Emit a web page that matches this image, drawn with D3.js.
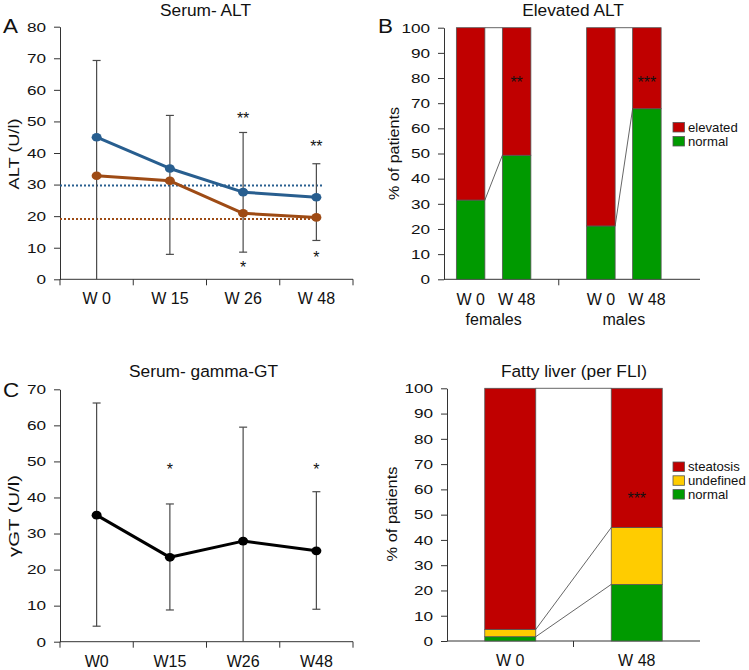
<!DOCTYPE html>
<html><head><meta charset="utf-8">
<script src="https://cdn.jsdelivr.net/npm/d3@7"></script>
<style>
body{margin:0;background:#fff}
svg text{font-family:"Liberation Sans",Arial,Helvetica,sans-serif;fill:#111}
</style></head><body>
<svg id="c" width="749" height="670"></svg>
<script>
// ---------- DATA ----------
// Panel A: Serum ALT
const altWeeks = ["W 0", "W 15", "W 26", "W 48"];
const altMale = [45.0, 35.1, 27.6, 26.0];
const altFemale = [32.8, 31.2, 20.9, 19.6];
const altErrHigh = [69.3, 51.9, 46.5, 36.6];
const altErrLow = [0, 7.9, 8.6, 12.3];
const altRefMale = 29.7;
const altRefFemale = 19.1;
const altStarsTop = ["", "", "**", "**"];
const altStarsTopY = [null, null, 51.8, 42.9];
const altStarsBottom = ["", "", "*", "*"];
const altStarsBottomY = [null, null, 4.7, 8.0];
const altTicks = [0, 10, 20, 30, 40, 50, 60, 70, 80];

// Panel B: Elevated ALT
const elevGroups = ["females", "males"];
const elevWeeks = ["W 0", "W 48"];
const elevNormalFemales = [31.5, 49.3];
const elevNormalMales = [21.2, 67.8];
const elevStarsFemales = ["", "**"];
const elevStarsMales = ["", "***"];
const elevStarsY = 79.6;
const elevLegend = ["elevated", "normal"];
const pctTicks = [0, 10, 20, 30, 40, 50, 60, 70, 80, 90, 100];

// Panel C: Serum gamma-GT
const ggtWeeks = ["W0", "W15", "W26", "W48"];
const ggtMean = [35.1, 23.4, 27.9, 25.2];
const ggtErrHigh = [66.2, 38.2, 59.5, 41.6];
const ggtErrLow = [4.3, 8.8, 0, 9.0];
const ggtStars = ["", "*", "", "*"];
const ggtStarsY = 48.7;
const ggtTicks = [0, 10, 20, 30, 40, 50, 60, 70];

// Panel D: Fatty liver (per FLI)
const fliWeeks = ["W 0", "W 48"];
const fliNormal = [1.7, 22.4];
const fliUndefined = [2.9, 22.5];
const fliSteatosis = [95.4, 55.1];
const fliStars = ["", "***"];
const fliStarsY = 57.7;
const fliLegend = ["steatosis", "undefined", "normal"];

// ---------- STYLE ----------
const RED = "#c00000", GREEN = "#009a00", YELLOW = "#ffcc00";
const BLUE = "#285e8f", BROWN = "#9e4b15";
const AXIS = "#333", OUTLINE = "#555";
const TICK_FS = 13.5, TICK_S = 1.27;
const XL_FS = 16, TITLE_FS = 16.5, TITLE_S = 1.05, LEG_FS = 12.3, LEG_S = 1.07;
const STAR_FS = 16, LET_FS = 19.5, LET_S = 1.15;
const svg = d3.select("#c");

function yAxis(g, y, ticks, x0) {
  const a = g.append("g").attr("transform", `translate(${x0},0)`)
    .call(d3.axisLeft(y).tickValues(ticks).tickSize(6).tickPadding(8).tickSizeOuter(0));
  a.select(".domain").attr("stroke", AXIS);
  a.selectAll(".tick line").attr("stroke", AXIS);
  a.selectAll(".tick text").attr("class", "st").attr("data-s", TICK_S)
    .attr("font-size", TICK_FS).attr("fill", "#111");
}
function xBase(g, y0, xStart, xEnd, tickXs) {
  g.append("line").attr("x1", xStart).attr("x2", xEnd).attr("y1", y0).attr("y2", y0).attr("stroke", AXIS);
  g.selectAll(null).data(tickXs).join("line")
    .attr("x1", d => d).attr("x2", d => d).attr("y1", y0).attr("y2", y0 + 6).attr("stroke", AXIS);
}
function txt(g, s, x, y, size, anchor, stretch) {
  return g.append("text").attr("x", x).attr("y", y).attr("font-size", size)
    .attr("text-anchor", anchor || "middle").attr("class", "st").attr("data-s", stretch || 1).text(s);
}
function yLabel(g, s, x, y, size, len) {
  const t = g.append("text").attr("text-anchor", "middle").attr("font-size", size).text(s);
  const w = t.node().getComputedTextLength();
  t.attr("transform", `translate(${x},${y}) rotate(-90) scale(${len / w},1.1)`);
}
function errBars(g, x, y, lows, highs, cats, color) {
  const cw = 4;
  cats.forEach((c, i) => {
    const cx = x(c) + x.bandwidth() / 2;
    g.append("line").attr("x1", cx).attr("x2", cx).attr("y1", y(lows[i])).attr("y2", y(highs[i]))
      .attr("stroke", color).attr("stroke-width", 1.2);
    [lows[i], highs[i]].forEach(v => {
      if (v > 0) g.append("line").attr("x1", cx - cw).attr("x2", cx + cw).attr("y1", y(v)).attr("y2", y(v))
        .attr("stroke", color).attr("stroke-width", 1.2);
    });
  });
}
function seriesLine(g, x, y, cats, vals, color, rx, ry) {
  const pts = cats.map((c, i) => [x(c) + x.bandwidth() / 2, y(vals[i])]);
  g.append("path").attr("d", d3.line()(pts)).attr("fill", "none").attr("stroke", color)
    .attr("stroke-width", 3).attr("stroke-linejoin", "round");
  g.selectAll(null).data(pts).join("ellipse").attr("cx", d => d[0]).attr("cy", d => d[1])
    .attr("rx", rx).attr("ry", ry).attr("fill", color);
}
function stars(g, x, cats, labels, yv, y) {
  cats.forEach((c, i) => {
    const lab = labels[i];
    const v = Array.isArray(yv) ? yv[i] : yv;
    if (lab) txt(g, lab, x(c) + x.bandwidth() / 2, y(v) + 8.5, STAR_FS, "middle", 1.0);
  });
}

// ---------- PANEL A ----------
{
  const g = svg.append("g");
  const y = d3.scaleLinear().domain([0, 80]).range([279.3, 26.7]);
  const x = d3.scaleBand().domain(altWeeks).range([60, 353]);
  yAxis(g, y, altTicks, 60);
  xBase(g, 279.3, 60, 353, altWeeks.map(d => x(d)).concat([353]));
  altWeeks.forEach(d => txt(g, d, x(d) + x.bandwidth() / 2, 304, XL_FS));
  g.append("line").attr("x1", 60).attr("x2", 322).attr("y1", y(altRefMale)).attr("y2", y(altRefMale))
    .attr("stroke", BLUE).attr("stroke-width", 2).attr("stroke-dasharray", "2,2");
  g.append("line").attr("x1", 60).attr("x2", 318).attr("y1", y(altRefFemale)).attr("y2", y(altRefFemale))
    .attr("stroke", BROWN).attr("stroke-width", 2).attr("stroke-dasharray", "2,2");
  errBars(g, x, y, altErrLow, altErrHigh, altWeeks, "#4a4a4a");
  seriesLine(g, x, y, altWeeks, altMale, BLUE, 5, 4.3);
  seriesLine(g, x, y, altWeeks, altFemale, BROWN, 5, 4.3);
  stars(g, x, altWeeks, altStarsTop, altStarsTopY, y);
  stars(g, x, altWeeks, altStarsBottom, altStarsBottomY, y);
  txt(g, "Serum- ALT", 205.5, 15.7, TITLE_FS, "middle", TITLE_S);
  txt(g, "A", 3, 33, LET_FS, "start", LET_S);
  yLabel(g, "ALT (U/l)", 18.5, 154, 14, 71);
}

// ---------- PANEL B ----------
{
  const g = svg.append("g");
  const y = d3.scaleLinear().domain([0, 100]).range([279.3, 27.7]);
  const outer = d3.scaleBand().domain(elevGroups).range([428.5, 689]);
  const ob = outer.bandwidth();
  const inner = d3.scaleBand().domain(elevWeeks).range([ob / 2 - 46, ob / 2 + 46]);
  const bw = 28.5;
  yAxis(g, y, pctTicks, 444);
  xBase(g, 279.3, 444, 700, [outer("males")]);
  const normals = { females: elevNormalFemales, males: elevNormalMales };
  const starsB = { females: elevStarsFemales, males: elevStarsMales };
  elevGroups.forEach(gr => {
    const cx = w => outer(gr) + inner(w) + inner.bandwidth() / 2;
    [normals[gr][0], 100].forEach((v0, k) => {
      const v1 = k === 0 ? normals[gr][1] : 100;
      g.append("line").attr("x1", cx(elevWeeks[0]) + bw / 2).attr("x2", cx(elevWeeks[1]) - bw / 2)
        .attr("y1", y(v0)).attr("y2", y(v1)).attr("stroke", OUTLINE).attr("stroke-width", 0.9);
    });
    elevWeeks.forEach((w, i) => {
      const n = normals[gr][i];
      g.append("rect").attr("x", cx(w) - bw / 2).attr("width", bw).attr("y", y(n)).attr("height", y(0) - y(n))
        .attr("fill", GREEN).attr("stroke", OUTLINE).attr("stroke-width", 0.8);
      g.append("rect").attr("x", cx(w) - bw / 2).attr("width", bw).attr("y", y(100)).attr("height", y(n) - y(100))
        .attr("fill", RED).attr("stroke", OUTLINE).attr("stroke-width", 0.8);
      if (starsB[gr][i]) txt(g, starsB[gr][i], cx(w), y(elevStarsY) + 8.5, STAR_FS, "middle", 1.0);
      txt(g, w, cx(w), 305, XL_FS);
    });
    txt(g, gr, (cx(elevWeeks[0]) + cx(elevWeeks[1])) / 2, 325, XL_FS);
  });
  [RED, GREEN].forEach((c, i) => {
    g.append("rect").attr("x", 673).attr("y", 122.5 + i * 14).attr("width", 11.5).attr("height", 9.5)
      .attr("fill", c).attr("stroke", OUTLINE).attr("stroke-width", 0.8);
    txt(g, elevLegend[i], 688, 131.5 + i * 14, LEG_FS, "start", LEG_S);
  });
  txt(g, "Elevated ALT", 573, 15.7, TITLE_FS, "middle", TITLE_S);
  txt(g, "B", 378, 33, LET_FS, "start", LET_S);
  yLabel(g, "% of patients", 399, 153.5, 14, 93);
}

// ---------- PANEL C ----------
{
  const g = svg.append("g");
  const y = d3.scaleLinear().domain([0, 70]).range([641.7, 389.3]);
  const x = d3.scaleBand().domain(ggtWeeks).range([60, 353]);
  yAxis(g, y, ggtTicks, 60);
  xBase(g, 641.7, 60, 353, ggtWeeks.map(d => x(d)).concat([353]));
  ggtWeeks.forEach(d => txt(g, d, x(d) + x.bandwidth() / 2, 666.5, XL_FS));
  errBars(g, x, y, ggtErrLow, ggtErrHigh, ggtWeeks, "#4a4a4a");
  seriesLine(g, x, y, ggtWeeks, ggtMean, "#000", 5, 4.3);
  stars(g, x, ggtWeeks, ggtStars, ggtStarsY, y);
  txt(g, "Serum- gamma-GT", 203.5, 376.5, TITLE_FS, "middle", TITLE_S);
  txt(g, "C", 3, 397, LET_FS, "start", LET_S);
  yLabel(g, "γGT (U/l)", 19, 516, 14, 82);
}

// ---------- PANEL D ----------
{
  const g = svg.append("g");
  const y = d3.scaleLinear().domain([0, 100]).range([641, 388.3]);
  const x = d3.scaleBand().domain(fliWeeks).range([447, 700]);
  const bw = 51;
  yAxis(g, y, pctTicks, 447);
  xBase(g, 641, 447, 700, [x(fliWeeks[1])]);
  const cx = w => x(w) + x.bandwidth() / 2;
  const layers = [fliNormal, fliUndefined, fliSteatosis];
  const colors = [GREEN, YELLOW, RED];
  const stack = fliWeeks.map((w, i) => {
    let acc = 0;
    return layers.map(L => { const s = acc; acc += L[i]; return [s, acc]; });
  });
  layers.forEach((L, k) => {
    g.append("line").attr("x1", cx(fliWeeks[0]) + bw / 2).attr("x2", cx(fliWeeks[1]) - bw / 2)
      .attr("y1", y(Math.min(100, stack[0][k][1]))).attr("y2", y(Math.min(100, stack[1][k][1])))
      .attr("stroke", OUTLINE).attr("stroke-width", 0.9);
  });
  fliWeeks.forEach((w, i) => {
    layers.forEach((L, k) => {
      const [a, b] = stack[i][k];
      g.append("rect").attr("x", cx(w) - bw / 2).attr("width", bw).attr("y", y(Math.min(100, b)))
        .attr("height", y(a) - y(Math.min(100, b))).attr("fill", colors[k])
        .attr("stroke", OUTLINE).attr("stroke-width", 0.8);
    });
    if (fliStars[i]) txt(g, fliStars[i], cx(w), y(fliStarsY) + 8.5, STAR_FS, "middle", 1.0);
    txt(g, w, cx(w), 665.5, XL_FS);
  });
  [RED, YELLOW, GREEN].forEach((c, i) => {
    g.append("rect").attr("x", 673).attr("y", 462 + i * 13.8).attr("width", 11.5).attr("height", 9.5)
      .attr("fill", c).attr("stroke", OUTLINE).attr("stroke-width", 0.8);
    txt(g, fliLegend[i], 688, 471 + i * 13.8, LEG_FS, "start", LEG_S);
  });
  txt(g, "Fatty liver (per FLI)", 574, 376.5, TITLE_FS, "middle", TITLE_S);
  yLabel(g, "% of patients", 397, 514, 14, 95);
}

// horizontal glyph stretch, applied with a transform around each text's anchor point
d3.selectAll("text.st").each(function () {
  const s = +this.getAttribute("data-s") || 1;
  if (s === 1) return;
  const x = +this.getAttribute("x") || 0, y = +this.getAttribute("y") || 0;
  this.setAttribute("x", 0);
  this.setAttribute("y", 0);
  this.setAttribute("transform", `translate(${x},${y}) scale(${s},1)`);
});
</script>
</body></html>
